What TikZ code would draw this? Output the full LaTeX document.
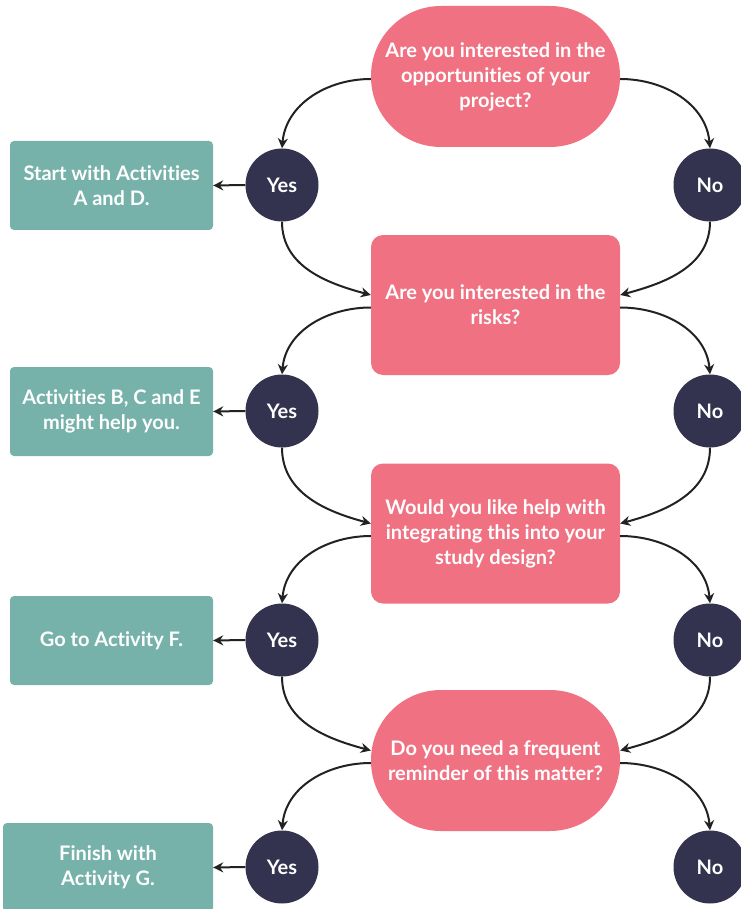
\documentclass[tikz,border=0pt]{standalone}
\usepackage{fontspec}
\setmainfont{Lato}[Ligatures={NoCommon,NoRare}]
\usetikzlibrary{arrows.meta}
\definecolor{pinkq}{RGB}{240,113,130}
\definecolor{navy}{RGB}{51,50,79}
\definecolor{tealb}{RGB}{118,178,170}
\definecolor{linec}{RGB}{34,34,34}
\begin{document}
\begin{tikzpicture}[x=1pt,y=1pt,
  txt/.style={text=white,font=\fontsize{20}{25}\selectfont\bfseries,align=center},
  qstad/.style={txt,fill=pinkq,rounded corners=70pt,minimum width=249pt,minimum height=141pt,inner sep=0pt},
  qbox/.style={txt,fill=pinkq,rounded corners=12pt,minimum width=249pt,minimum height=140pt,inner sep=0pt},
  ans/.style={txt,circle,fill=navy,minimum size=73pt,inner sep=0pt},
  act/.style={txt,fill=tealb,rounded corners=4pt,minimum height=89pt,inner sep=0pt},
  conn/.style={draw=linec,line width=2pt,-{Stealth[length=10pt,width=10pt]}}
]
\useasboundingbox (0,0) rectangle (740,-909);
% decisions
\node[qstad] (q1) at (495.5,-76.5) {Are you interested in the\\opportunities of your\\project?};
\node[qbox] (q2) at (495.5,-305) {Are you interested in the\\risks?};
\node[qbox] (q3) at (495.5,-533.5) {Would you like help with\\integrating this into your\\study design?};
\node[qstad] (q4) at (495.5,-760.5) {Do you need a frequent\\reminder of this matter?};
% answers
\node[ans] (y1) at (282,-185) {Yes};
\node[ans] (y2) at (282,-411) {Yes};
\node[ans] (y3) at (282,-640) {Yes};
\node[ans] (y4) at (282,-867) {Yes};
\node[ans] (n1) at (710,-185) {No};
\node[ans] (n2) at (710,-411) {No};
\node[ans] (n3) at (710,-640) {No};
\node[ans] (n4) at (710,-867) {No};
% activities
\node[act,minimum width=203pt] (a1) at (111.5,-185.5) {Start with Activities\\A and D.};
\node[act,minimum width=203pt] (a2) at (111.5,-411.5) {Activities B, C and E\\might help you.};
\node[act,minimum width=203pt] (a3) at (111.5,-640.5) {Go to Activity F.};
\node[act,minimum width=210pt] (a4) at (108,-867.5) {Finish with\\Activity G.};
% yes -> activity
\foreach \i in {1,2,3,4}{
  \draw[conn] (y\i.west) -- (a\i.east);
}
% decision -> answers
\foreach \i in {1,2,3,4}{
  \draw[conn] ([yshift=-2.5pt]q\i.west) to[out=180,in=85] (y\i.north);
  \draw[conn] ([yshift=-2.5pt]q\i.east) to[out=0,in=95] (n\i.north);
}
% answers -> next decision
\foreach \i/\j in {1/2,2/3,3/4}{
  \draw[conn] (y\i.south) to[out=-90,in=165] ([yshift=10pt]q\j.west);
  \draw[conn] (n\i.south) to[out=-90,in=15] ([yshift=10pt]q\j.east);
}
\end{tikzpicture}
\end{document}
